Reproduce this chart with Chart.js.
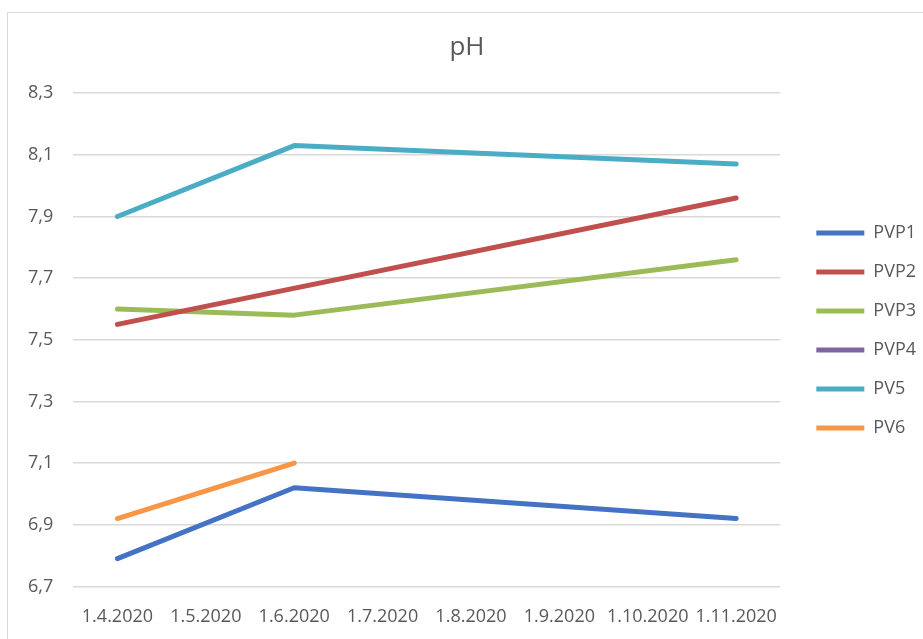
<!DOCTYPE html>
<html>
<head>
<meta charset="utf-8">
<script src="https://cdn.jsdelivr.net/npm/chart.js@4/dist/chart.umd.min.js"></script>
<style>
  html, body { margin: 0; padding: 0; background: #fff; overflow: hidden; }
  #frame {
    position: absolute; left: 7px; top: 12px;
    width: 940px; height: 660px;
    border: 1px solid #d9d9d9;
  }
  #wrap { position: absolute; left: 0; top: 0; width: 918px; height: 647px; }
</style>
</head>
<body>
<div id="frame"><div id="wrap"><canvas id="chart"></canvas></div></div>
<script>
// categories
const dates = ['1.4.2020', '1.5.2020', '1.6.2020', '1.7.2020', '1.8.2020', '1.9.2020', '1.10.2020', '1.11.2020'];
const yTicks = [6.7, 6.9, 7.1, 7.3, 7.5, 7.7, 7.9, 8.1, 8.3];

// series values (null = no measurement)
const pvp1 = [6.79, null, 7.02, null, null, null, null, 6.92];
const pvp2 = [7.55, null, null, null, null, null, null, 7.96];
const pvp3 = [7.60, null, 7.58, null, null, null, null, 7.76];
const pvp4 = [null, null, null, null, null, null, null, null];
const pv5  = [7.90, null, 8.13, null, null, null, null, 8.07];
const pv6  = [6.92, null, 7.10, null, null, null, null, null];

const seriesNames = ['PVP1', 'PVP2', 'PVP3', 'PVP4', 'PV5', 'PV6'];
const seriesData = [pvp1, pvp2, pvp3, pvp4, pv5, pv6];
const colors = ['#4472C4', '#C0504D', '#9BBB59', '#8064A2', '#4BACC6', '#F79646'];

const font = '"Open Sans", "Noto Sans", sans-serif';
const textColor = '#595959';

const datasets = seriesNames.map((name, i) => ({
  label: name,
  data: seriesData[i],
  borderColor: colors[i],
  backgroundColor: colors[i],
  borderWidth: 5,
  borderCapStyle: 'round',
  borderJoinStyle: 'round',
  pointRadius: 0,
  pointHoverRadius: 0,
  pointStyle: 'line',
  tension: 0,
  spanGaps: true,
  fill: false
}));

new Chart(document.getElementById('chart'), {
  type: 'line',
  data: { labels: dates, datasets: datasets },
  options: {
    responsive: true,
    maintainAspectRatio: false,
    animation: false,
    layout: { padding: { left: 0, right: 0, top: 0, bottom: 12 } },
    plugins: {
      title: {
        display: true,
        text: 'pH',
        color: textColor,
        font: { family: font, size: 26, weight: 'normal' },
        padding: { top: 19, bottom: 30 }
      },
      legend: {
        position: 'right',
        labels: {
          usePointStyle: true,
          pointStyleWidth: 48,
          boxHeight: 18,
          padding: 21,
          color: textColor,
          font: { family: font, size: 18 }
        }
      },
      tooltip: { enabled: false }
    },
    scales: {
      x: {
        offset: true,
        grid: { display: false, drawTicks: false },
        border: { display: false },
        ticks: {
          color: textColor,
          font: { family: font, size: 18 },
          maxRotation: 0,
          autoSkip: false,
          padding: 20
        }
      },
      y: {
        min: 6.7,
        max: 8.3,
        afterBuildTicks: (axis) => {
          axis.ticks = yTicks.map(v => ({ value: v }));
        },
        grid: { color: '#d9d9d9', lineWidth: 1.5, drawTicks: false },
        border: { display: false },
        ticks: {
          color: textColor,
          font: { family: font, size: 18 },
          padding: 20,
          callback: (v) => v.toFixed(1).replace('.', ',')
        }
      },
      // empty right-hand axis, only keeps a gap between plot and legend
      gap: {
        type: 'linear',
        position: 'right',
        grid: { display: false },
        border: { display: false },
        ticks: { display: false },
        afterFit: (axis) => { axis.width = 15; }
      }
    }
  }
});
</script>
</body>
</html>
